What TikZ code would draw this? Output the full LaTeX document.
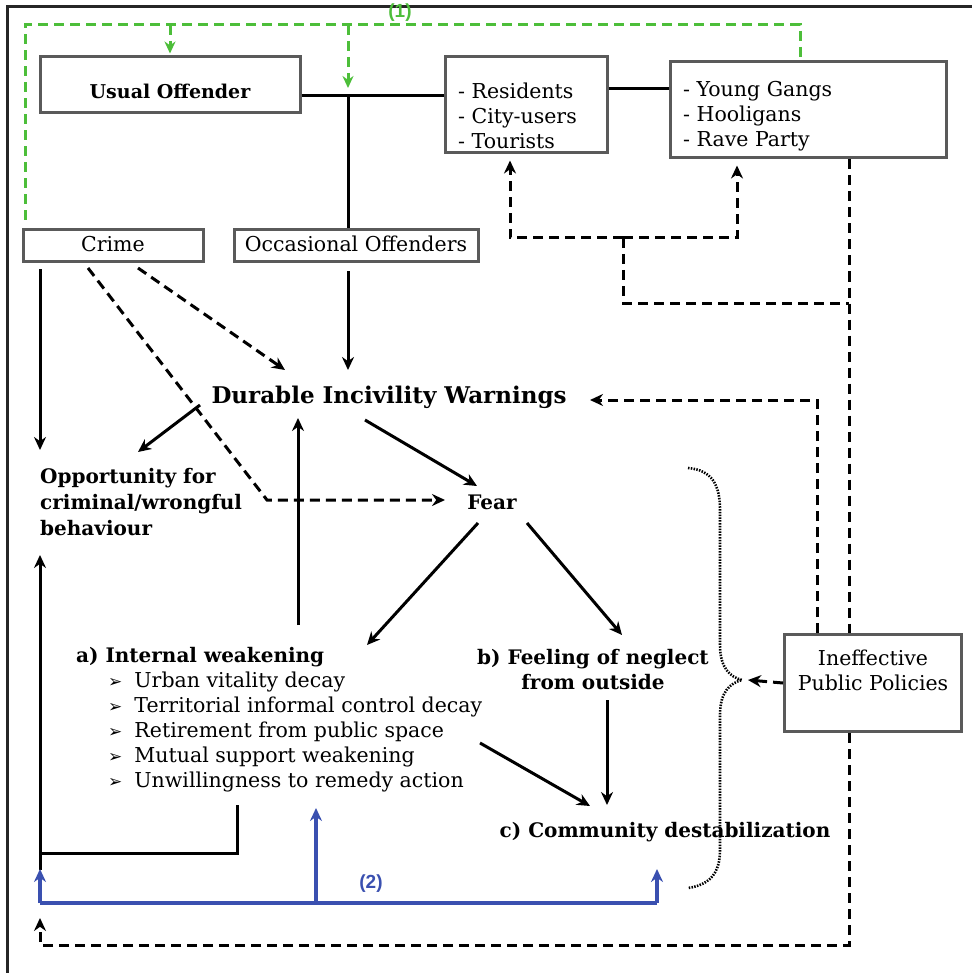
\documentclass[tikz,border=0pt]{standalone}
\usepackage{fontspec}
\setmainfont{DejaVu Serif}
\newfontfamily\symfont{DejaVu Sans}
\newfontfamily\labfont{Liberation Sans}
\usetikzlibrary{arrows.meta}
\definecolor{boxgray}{HTML}{5A5A5A}
\definecolor{lgreen}{HTML}{4DBE3A}
\definecolor{lblue}{HTML}{3A50B0}
\newcommand{\arrbul}{{\symfont\fontsize{17}{17}\selectfont ➢}\hspace{12pt}}
\begin{document}
\begin{tikzpicture}[x=1pt,y=-1pt,
  box/.style={draw=boxgray, line width=3pt, inner sep=0pt},
  txt/.style={font=\fontsize{20.5}{25}\selectfont, inner sep=0pt},
  btxt/.style={font=\fontsize{20}{26}\selectfont\bfseries, inner sep=0pt},
  sline/.style={line width=3pt, black},
  sarrow/.style={sline, -{Stealth[length=13pt,width=12pt]}},
  dline/.style={line width=3pt, black, dash pattern=on 10pt off 6pt},
  darrow/.style={dline, -{Stealth[length=13pt,width=12pt]}},
  gline/.style={line width=3pt, lgreen, dash pattern=on 10pt off 6pt},
  garrow/.style={gline, -{Stealth[length=12pt,width=11pt]}},
  bline/.style={line width=3.2pt, lblue},
  barrow/.style={bline, -{Stealth[length=13pt,width=12pt]}},
  dotline/.style={line width=2.6pt, black, dash pattern=on 1.5pt off 1.3pt}
]
\useasboundingbox (0,0) rectangle (972,973);
% frame
\draw[line width=3pt, black!85] (7,973) -- (7,7) -- (972,7);

% boxes
\node[box, minimum width=260pt, minimum height=56pt] (uo) at (170,85) {};
\node[btxt, font=\fontsize{19}{25}\selectfont\bfseries] (uot) at (170,91) {Usual Offender};
\node[box, minimum width=162pt, minimum height=96pt] (res) at (526,105) {};
\node[txt, align=left, anchor=west] (rest) at (458,116) {- Residents\\- City-users\\- Tourists};
\node[box, minimum width=276pt, minimum height=96pt] (yg) at (808,110) {};
\node[txt, align=left, anchor=west] (ygt) at (683,116) {- Young Gangs\\- Hooligans\\- Rave Party};
\node[box, minimum width=180pt, minimum height=32pt] (crime) at (113,246) {};
\node[txt] (crimet) at (113,244) {Crime};
\node[box, minimum width=244pt, minimum height=32pt] (occ) at (356,246) {};
\node[txt] (occt) at (356,244) {Occasional Offenders};
\node[box, minimum width=177pt, minimum height=97pt] (ipp) at (873,683) {};
\node[txt, align=center] (ippt) at (873,670) {Ineffective\\Public Policies};

% text nodes
\node[btxt, font=\fontsize{23}{25}\selectfont\bfseries] (diw) at (389,397) {Durable Incivility Warnings};
\node[btxt, align=left, anchor=west] (opp) at (40,502) {Opportunity for\\criminal/wrongful\\behaviour};
\node[btxt] (fear) at (492,502) {Fear};
\node[btxt, anchor=west] (aw) at (76,657) {a) Internal weakening};
\node[txt, align=left, anchor=west] (awl) at (108,732) {\arrbul Urban vitality decay\\\arrbul Territorial informal control decay\\\arrbul Retirement from public space\\\arrbul Mutual support weakening\\\arrbul Unwillingness to remedy action};
\node[btxt, align=center, font=\fontsize{20}{25}\selectfont\bfseries] (bf) at (593,670) {b) Feeling of neglect\\from outside};
\node[btxt] (cd) at (665,832) {c) Community destabilization};
\node[font=\labfont\bfseries\fontsize{19}{19}\selectfont, text=lgreen, inner sep=0pt] (l1) at (400,13) {(1)};
\node[font=\labfont\bfseries\fontsize{19}{19}\selectfont, text=lblue, inner sep=0pt] (l2) at (371,884) {(2)};

% coordinates
\coordinate (xL) at (40,0);
\coordinate (j1) at (348,96);
\coordinate (ry) at (640,89);
\coordinate (g1) at (25,220);
\coordinate (g2) at (25,25);
\coordinate (g3) at (800,25);
\coordinate (g4) at (170,25);
\coordinate (g5) at (348,25);
\coordinate (d1) at (510,238);
\coordinate (d2) at (737,238);
\coordinate (d3) at (623,238);
\coordinate (d4) at (623,303);
\coordinate (d5) at (849,303);
\coordinate (bot) at (849,945);
\coordinate (botL) at (40,945);
\coordinate (p1) at (817,400);

% solid black connections
\draw[sline] ([yshift=-11pt]uo.east) -- (res.west |- j1);
\draw[sline] (j1) -- (occ.north -| j1);
\draw[sline] (ry -| res.east) -- (ry -| yg.west);

% green (1)
\draw[gline] (g1) -- (g2) -- (g3) -- (g3 |- yg.north);
\draw[garrow] (g4) -- ([yshift=2pt]uo.north);
\draw[garrow] (g5) -- ([yshift=8pt]j1);

% dashed feedback to residents / gangs
\draw[darrow] (d3) -- (d1) -- ([yshift=-6pt]d1 |- res.south);
\draw[darrow] (d3) -- (d2) -- ([yshift=-6pt]d2 |- yg.south);
\draw[dline] (d3) -- (d4) -- (d5);
\draw[dline] (d5 |- yg.south) -- (d5 |- ipp.north);
\draw[darrow] (d5 |- ipp.south) -- (bot) -- (botL) -- (40,918);
\draw[darrow] (ipp.north -| p1) -- (p1) -- (590,400);
\draw[darrow] (ipp.west) -- (748,680);

% dotted brace
\draw[dotline] (688,468) .. controls (712,470) and (720,485) .. (720,510) -- (720,645)
  .. controls (720,668) and (730,677) .. (742,680)
  .. controls (730,683) and (720,692) .. (720,715) -- (720,850)
  .. controls (720,875) and (708,885) .. (688,888);

% crime
\draw[sarrow] ([yshift=-6pt]crime.south -| xL) -- (40,450);
\draw[darrow] (138,268) -- (285,370);
\draw[darrow] (88,268) -- (267,500) -- (445,500);
\draw[sarrow] ([yshift=-8pt]occ.south -| j1) -- (348,370);

% main flow
\draw[sarrow] (200,405) -- (138,452);
\draw[sarrow] (365,420) -- (477,486);
\draw[sarrow] (298,625) -- (298,418);
\draw[sarrow] (478,523) -- (367,645);
\draw[sarrow] (527,523) -- (622,635);
\draw[sarrow] (607,700) -- (607,805);
\draw[sarrow] (480,743) -- (590,806);

% black loop
\draw[sline] (237,805) -- (237,853) -- (40,853);
\draw[sarrow] (40,870) -- (40,555);

% blue (2)
\draw[bline] (40,903) -- (657,903);
\draw[barrow] (40,903) -- (40,869);
\draw[barrow] (316,903) -- (316,808);
\draw[barrow] (657,903) -- (657,869);
\end{tikzpicture}
\end{document}
